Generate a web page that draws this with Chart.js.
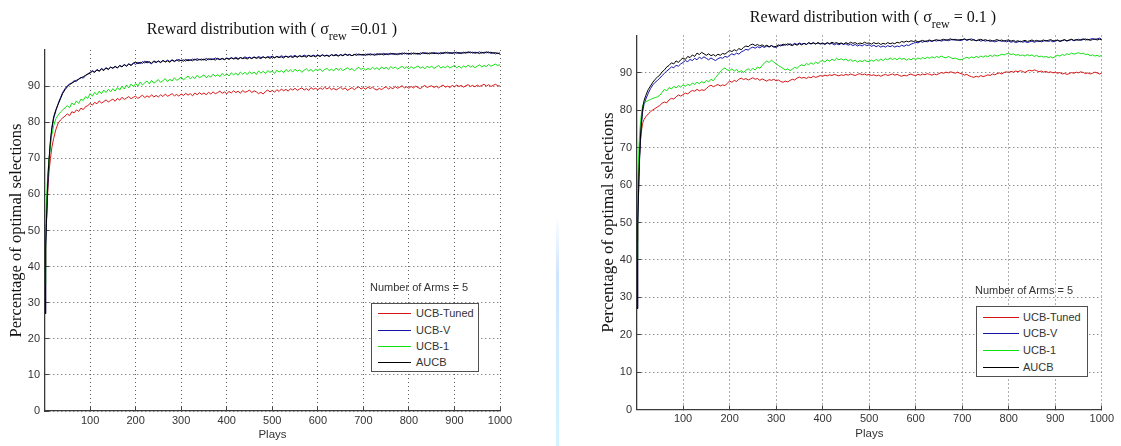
<!DOCTYPE html>
<html><head><meta charset="utf-8">
<script src="https://cdn.jsdelivr.net/npm/chart.js@4.4.1/dist/chart.umd.min.js"></script>
<style>
html,body{margin:0;padding:0;background:#fff;}
body{width:1121px;height:446px;position:relative;overflow:hidden;font-family:"Liberation Sans",Arial,sans-serif;}
canvas{position:absolute;top:0;}
.title{position:absolute;font-family:"Liberation Serif","Times New Roman",serif;font-size:16px;line-height:16px;color:#111;white-space:nowrap;transform:translateX(-50%);z-index:2;}
.title sub{font-size:12px;vertical-align:-6px;line-height:0;}
.note{position:absolute;font-size:11px;line-height:13px;color:#333;white-space:nowrap;z-index:2;}
.legend{position:absolute;border:1.5px solid #505050;background:#fff;box-sizing:border-box;z-index:2;}
.lrow{position:absolute;left:0;height:14px;width:100%;}
.lline{position:absolute;top:7px;height:1px;}
.ltext{position:absolute;top:0;font-size:11px;line-height:14px;color:#333;white-space:nowrap;}
.artifact{position:absolute;left:556px;top:215px;width:3px;height:231px;background:linear-gradient(to bottom,rgba(205,228,255,0),#cfe5ff 25%,#d3f4ff);z-index:1;}
</style></head>
<body>
<canvas id="c1" width="560" height="446" style="left:0"></canvas>
<canvas id="c2" width="561" height="446" style="left:560px"></canvas>
<div class="artifact"></div>
<div class="title" style="left:272px;top:21px">Reward distribution with ( &sigma;<sub>rew</sub> =0.01 )</div>
<div class="title" style="left:873px;top:9px">Reward distribution with ( &sigma;<sub>rew</sub> = 0.1 )</div>
<div class="note" style="left:370px;top:281px">Number of Arms = 5</div>
<div class="note" style="left:975px;top:284px">Number of Arms = 5</div>
<div class="legend" id="lg1" style="left:371px;top:303px;width:108px;height:69px"></div>
<div class="legend" id="lg2" style="left:976px;top:306px;width:112px;height:71px"></div>
<script>
// ---------- data ----------
const plays = [1,2,3,4,6,8,10,13,16,20,25,30,35,40,45,
50,55,60,65,70,75,80,85,90,95,
100,105,110,115,120,125,130,135,140,145,
150,155,160,165,170,175,180,185,190,195,
200,205,210,215,220,225,230,235,240,245,
250,255,260,265,270,275,280,285,290,295,
300,305,310,315,320,325,330,335,340,345,
350,355,360,365,370,375,380,385,390,395,
400,405,410,415,420,425,430,435,440,445,
450,455,460,465,470,475,480,485,490,495,
500,505,510,515,520,525,530,535,540,545,
550,555,560,565,570,575,580,585,590,595,
600,605,610,615,620,625,630,635,640,645,
650,655,660,665,670,675,680,685,690,695,
700,705,710,715,720,725,730,735,740,745,
750,755,760,765,770,775,780,785,790,795,
800,805,810,815,820,825,830,835,840,845,
850,855,860,865,870,875,880,885,890,895,
900,905,910,915,920,925,930,935,940,945,
950,955,960,965,970,975,980,985,990,995,
1000];

const seriesNames = ['UCB-Tuned','UCB-V','UCB-1','AUCB'];
const xTicks = [100,200,300,400,500,600,700,800,900,1000];
const yTicks = [0,10,20,30,40,50,60,70,80,90];
const xTitle = 'Plays';
const yTitle = 'Percentage of optimal selections';

// ----- left panel, sigma_rew = 0.01 -----
const l_tuned = [40,44,48,52,58,63,66.5,70,73,75.5,78,79.8,80.6,81.2,81.7,
82.3,81.8,82.9,82.6,83.4,83.0,83.9,83.5,84.3,84.6,
85.2,84.7,85.5,85.1,85.9,85.3,85.7,86.2,85.6,86.0,
86.4,85.8,86.6,86.1,86.9,86.3,86.7,87.1,86.5,86.9,
87.2,86.6,87.0,87.5,86.8,87.3,86.9,87.6,87.0,87.4,
87.0,87.6,87.1,87.8,87.2,87.5,87.9,87.3,87.7,87.2,
87.8,87.4,88.0,87.5,87.9,87.3,88.1,87.6,88.2,87.7,
88.1,87.6,88.3,87.8,88.4,87.9,88.2,88.6,88.0,88.4,
87.9,88.5,88.1,88.7,88.2,88.6,88.0,88.8,88.3,88.5,
88.9,88.2,88.7,88.4,87.9,88.3,87.8,88.5,88.9,88.4,
88.8,88.3,89.0,88.5,89.2,88.7,89.1,88.6,89.3,88.9,
89.4,88.8,89.2,89.5,88.9,89.3,88.8,89.6,89.1,89.4,
89.0,89.5,89.1,89.7,89.2,89.6,89.0,89.4,88.9,89.3,
89.7,89.1,89.5,88.8,89.2,89.6,89.0,89.5,89.8,89.2,
89.6,89.1,89.8,89.3,89.7,89.2,88.9,89.4,89.0,89.5,
89.8,89.2,89.6,89.3,89.9,89.4,89.7,90.1,89.5,89.8,
89.4,89.9,89.5,90.0,89.6,89.3,89.8,90.2,89.6,89.9,
90.1,89.6,90.0,89.5,89.9,90.3,89.7,90.0,89.6,90.2,
89.8,90.3,89.9,90.2,89.7,90.1,90.4,89.9,90.2,89.8,
90.3,89.9,90.2,90.5,90.0,90.4,89.9,90.2,90.5,90.1,
90.0];
const l_ucbv = [27,37,45,51,59,65,69.5,74.5,78,81,83.2,85.2,86.8,88.3,89.3,
90.1,90.6,90.9,91.5,91.3,92.0,92.4,92.2,92.9,93.4,
93.8,94.3,93.9,94.6,94.2,94.9,94.5,95.1,94.7,95.3,
94.9,95.5,95.1,95.7,95.4,96.0,95.6,96.2,95.8,96.4,
96.0,96.6,96.2,96.8,96.4,96.9,96.5,96.2,96.8,96.5,
97.0,96.6,97.1,96.7,97.2,96.8,97.3,96.9,97.1,97.4,
97.0,97.3,96.9,97.4,97.1,97.5,97.2,97.6,97.3,97.5,
97.2,97.7,97.3,97.6,97.4,97.8,97.5,97.3,97.7,97.4,
97.8,97.5,97.9,97.6,98.0,97.6,97.9,97.7,98.1,97.8,
98.0,97.7,98.1,97.8,98.2,97.9,98.1,97.8,98.2,98.0,
98.3,97.9,98.2,98.0,98.4,98.1,98.3,98.0,98.4,98.2,
98.5,98.1,98.4,98.2,98.6,98.3,98.5,98.2,98.6,98.3,
98.6,98.3,98.7,98.4,98.6,98.3,98.7,98.5,98.8,98.4,
98.7,98.5,98.9,98.6,98.8,98.4,98.7,98.9,98.6,98.8,
98.5,98.9,98.6,99.0,98.7,98.9,98.6,99.0,98.8,99.1,
98.7,99.0,98.8,99.1,98.7,99.0,98.8,99.2,98.9,99.1,
98.8,99.2,98.9,99.1,98.8,99.2,99.0,99.3,98.9,99.2,
99.0,99.3,99.0,99.2,98.9,99.3,99.1,99.4,99.0,99.3,
99.1,99.4,99.0,99.3,99.1,99.4,99.2,99.5,99.1,99.4,
99.2,99.5,99.1,99.4,99.2,99.5,99.0,99.3,98.9,99.2,
98.8];
const l_ucb1 = [35,45,52,57,63,67,70,73.5,76.5,79,81,82,82.8,83.4,84,
84.6,84.0,85.3,84.8,85.9,85.2,86.4,86.0,87.1,86.6,
87.9,87.2,88.3,87.6,88.6,87.9,88.9,88.2,89.1,88.4,
89.3,88.6,89.6,88.9,90.0,89.2,90.3,89.5,90.6,89.9,
90.7,90.0,91.1,90.3,90.9,91.4,90.6,91.6,90.8,91.3,
91.8,91.0,91.5,92.1,91.2,91.9,91.4,92.3,91.6,92.0,
92.5,91.7,92.3,92.8,92.0,92.6,92.1,93.0,92.3,92.7,
93.1,92.3,92.9,92.5,93.3,92.7,93.2,92.6,93.5,92.9,
93.4,92.8,93.7,93.1,93.6,93.0,93.9,93.3,93.8,93.2,
94.0,93.4,93.9,93.2,94.2,93.6,94.1,93.5,94.3,93.8,
94.2,93.5,94.4,93.9,94.3,93.7,94.6,94.0,94.5,93.9,
94.7,94.1,94.5,93.8,94.4,94.8,94.2,94.6,94.0,94.7,
94.3,94.8,94.1,94.6,94.9,94.3,94.7,94.2,95.0,94.4,
94.9,94.3,94.7,95.1,94.5,94.9,94.2,94.8,95.2,94.6,
95.0,94.4,94.9,94.6,95.2,94.7,95.1,94.5,95.3,94.8,
95.2,94.6,95.4,94.9,95.3,94.7,95.1,95.5,94.9,95.3,
94.8,95.4,94.9,95.2,95.6,95.0,95.3,94.8,95.5,95.1,
95.5,94.9,95.3,95.7,95.0,95.4,95.1,95.6,95.0,95.4,
95.7,95.1,95.5,95.0,95.6,95.2,95.8,95.3,95.6,95.1,
95.5,95.9,95.3,95.7,95.4,96.0,95.5,95.8,96.1,95.7,
95.9];
const l_aucb = [27,38,46,52,60,66,70,75,78.5,81.5,83.5,85,86.5,88,89,
89.8,90.4,90.8,91.2,91.6,91.9,92.3,92.6,93.0,93.3,
93.6,94.1,93.8,94.5,94.1,94.7,94.3,95.0,94.6,95.2,
95.0,95.4,95.0,95.7,95.3,95.9,95.5,96.1,95.7,96.3,
96.7,96.2,96.6,96.3,96.9,96.4,96.8,96.3,97.0,96.6,
96.9,96.5,97.1,96.7,97.0,96.6,97.2,96.8,97.3,96.9,
97.2,96.9,97.4,97.0,97.3,97.0,97.5,97.1,97.4,97.2,
97.5,97.1,97.6,97.3,97.5,97.2,97.7,97.4,97.6,97.3,
97.7,97.4,97.8,97.5,97.7,97.4,97.9,97.6,97.8,97.5,
97.9,97.6,98.0,97.7,97.9,97.6,98.1,97.8,98.0,97.7,
98.1,97.8,98.2,97.9,98.1,97.8,98.3,98.0,98.2,97.9,
98.3,98.0,98.4,98.1,98.3,98.0,98.5,98.2,98.4,98.1,
98.5,98.2,98.6,98.3,98.5,98.2,98.7,98.4,98.6,98.3,
98.7,98.4,98.8,98.5,98.7,98.4,98.8,98.5,98.9,98.6,
98.8,98.5,98.9,98.6,98.8,98.5,99.0,98.7,98.9,98.6,
99.0,98.7,99.1,98.8,99.0,98.7,99.1,98.8,99.2,98.9,
99.1,98.8,99.2,98.9,99.1,98.8,99.3,99.0,99.2,98.9,
99.3,99.0,99.2,98.9,99.3,99.0,99.4,99.1,99.3,99.0,
99.4,99.1,99.3,99.0,99.4,99.1,99.5,99.2,99.4,99.1,
99.3,99.0,99.4,99.1,99.5,99.2,99.4,99.1,99.3,99.0,
99.2];

// ----- right panel, sigma_rew = 0.1 -----
const r_tuned = [45,52,58,62,67,71,74,76.5,77.5,78.3,79,79.6,80.1,80.5,80.9,
81.3,81.9,82.2,82.0,82.8,83.2,83.0,83.6,84.1,83.8,
84.2,84.6,84.4,84.9,85.3,85.1,85.6,85.2,85.5,85.3,
85.8,86.4,86.7,86.3,86.6,86.9,86.5,86.8,86.6,87.2,
87.8,87.5,88.0,87.7,88.3,88.6,88.2,88.5,88.1,88.4,
88.7,88.3,88.5,88.0,88.4,88.1,87.8,88.2,88.0,88.3,
87.9,88.1,87.7,87.5,87.8,87.6,88.0,88.3,88.1,88.6,
88.9,88.6,88.8,88.5,88.9,88.7,89.1,88.8,89.0,89.3,
89.1,89.4,89.2,89.5,89.3,89.6,89.4,89.2,89.5,89.3,
89.6,89.4,89.7,89.5,89.3,89.6,89.8,89.5,89.7,89.4,
89.6,89.3,89.5,89.2,89.4,89.1,89.4,89.6,89.3,89.5,
89.7,89.4,89.6,89.3,89.1,89.4,89.2,89.5,89.7,89.4,
89.3,89.6,89.4,89.7,89.5,89.8,89.6,89.4,89.7,89.5,
89.8,90.1,89.9,90.2,90.0,90.3,90.1,89.9,90.2,89.9,
89.7,89.4,89.6,89.2,89.0,88.8,89.1,88.9,89.3,89.0,
89.2,89.5,89.3,89.7,89.5,89.8,90.0,89.7,90.1,90.3,
90.1,90.4,90.2,90.5,90.3,90.6,90.4,90.1,90.5,90.7,
90.5,90.8,90.6,90.3,90.5,90.2,90.4,90.1,90.3,90.0,
90.2,89.9,90.1,89.7,89.9,89.6,89.8,90.1,89.9,90.2,
90.0,90.3,90.1,89.8,90.0,89.7,89.9,90.2,90.0,89.7,
89.9];
const r_ucbv = [27,39,49,56,65,71,75.5,79.5,81.5,83,84.5,85.8,86.8,87.5,88,
88.6,89.3,89.9,90.5,91.0,91.6,91.4,92.0,91.8,92.4,
92.8,93.3,93.0,93.6,93.3,93.9,93.5,94.2,93.8,94.3,
93.9,93.5,94.0,93.6,93.3,93.8,94.1,93.9,94.4,94.2,
94.7,95.1,94.8,95.3,95.0,95.6,95.9,96.3,96.1,96.6,
96.9,96.6,97.0,96.7,97.1,96.8,97.2,96.9,97.3,97.0,
96.8,97.2,97.5,97.3,97.7,97.4,97.8,97.5,97.9,97.6,
98.0,97.7,97.9,97.6,98.0,97.7,98.1,97.8,98.0,97.7,
97.9,97.6,98.0,97.7,97.9,97.5,97.8,97.5,97.9,97.6,
97.8,97.4,97.7,97.3,97.6,97.2,97.5,97.2,97.6,97.3,
97.5,97.1,97.4,97.0,97.3,96.9,97.2,96.9,97.3,97.0,
97.3,96.9,97.2,97.0,97.4,97.1,97.5,97.3,97.7,97.9,
98.2,98.0,98.4,98.2,98.5,98.3,98.6,98.4,98.7,98.5,
98.8,98.5,98.7,98.9,98.6,98.8,99.0,98.7,98.9,98.6,
98.8,99.0,98.7,98.9,99.1,98.8,98.6,98.8,98.5,98.7,
98.5,98.7,98.4,98.6,98.3,98.5,98.7,98.4,98.6,98.3,
98.5,98.2,98.4,98.1,98.3,98.5,98.2,98.4,98.1,98.3,
98.5,98.2,98.4,98.6,98.3,98.5,98.7,98.4,98.6,98.3,
98.5,98.7,98.4,98.6,98.8,98.5,98.7,98.9,98.6,98.8,
99.0,98.7,98.9,99.1,98.8,99.0,99.2,98.9,99.1,99.3,
99.0];
const r_ucb1 = [40,52,60,66,72,76,78.5,81.3,81.8,82.3,82.6,82.9,83.2,83.4,83.6,
84.0,84.8,85.6,85.2,86.1,85.7,86.4,86.0,86.6,86.2,
86.8,86.4,87.0,86.6,87.3,86.9,87.5,87.1,87.7,87.3,
88.0,87.6,88.3,87.9,88.8,89.5,90.3,91.0,91.3,90.8,
90.6,91.1,90.5,90.9,90.2,90.6,90.1,90.7,91.1,90.6,
91.2,90.8,91.6,91.2,92.0,92.7,93.2,92.8,93.4,92.9,
92.4,92.0,91.6,91.2,90.8,91.1,90.6,91.0,91.5,91.2,
91.8,92.2,91.9,92.5,92.2,92.7,92.3,92.9,92.5,93.1,
93.3,92.9,93.5,93.1,93.7,93.3,93.9,93.5,93.8,93.4,
93.7,93.2,93.6,93.1,93.4,92.9,93.3,93.0,93.4,93.1,
93.0,93.4,93.1,93.6,93.2,93.7,93.3,93.8,93.5,94.0,
93.6,93.9,93.5,94.0,93.6,93.9,93.4,93.8,93.5,93.9,
93.6,94.0,93.7,94.1,93.8,94.2,93.9,94.3,94.0,94.4,
94.1,94.5,94.2,94.0,94.4,94.1,93.8,94.0,93.7,93.5,
93.6,93.9,94.2,93.9,94.3,94.0,94.4,94.1,94.5,94.2,
94.6,94.3,94.7,94.4,94.8,94.5,94.7,95.0,94.8,95.1,
95.2,94.9,95.1,94.7,94.9,94.6,94.8,94.5,94.9,94.6,
94.8,94.4,94.7,94.3,94.5,94.2,94.4,94.1,94.3,94.0,
94.4,94.7,94.5,94.9,94.7,95.1,94.9,95.3,95.0,95.2,
95.4,95.1,95.3,94.9,95.0,94.6,94.8,94.5,94.7,94.4,
94.7];
const r_aucb = [27,40,50,57,66,72,76,80.5,82.5,84,85.5,86.5,87.5,88.3,88.9,
89.4,90.3,90.8,91.6,92.0,92.7,92.4,93.2,92.8,93.5,
94.0,93.6,94.4,94.1,94.8,94.4,95.3,94.9,95.5,95.1,
94.7,95.1,94.6,94.9,94.5,95.0,94.7,95.2,95.0,95.5,
96.0,95.7,96.2,95.9,96.5,96.2,96.8,97.2,97.0,97.5,
97.7,97.3,97.6,97.2,97.5,97.1,97.4,97.0,97.3,96.9,
97.1,97.5,97.2,97.7,97.4,97.8,97.5,97.3,97.7,97.4,
97.8,97.5,97.9,97.6,98.1,97.8,98.0,97.7,98.1,97.8,
98.0,97.7,98.1,97.8,98.2,97.9,98.1,97.8,98.0,97.7,
98.1,97.8,98.2,97.9,98.1,97.7,98.0,97.8,98.2,97.9,
98.0,97.7,98.1,97.8,98.0,97.6,97.9,97.7,98.1,97.8,
98.0,97.8,98.2,98.0,98.4,98.2,98.5,98.3,98.6,98.4,
98.6,98.3,98.5,98.7,98.4,98.6,98.8,98.5,98.7,98.9,
98.6,98.8,99.0,98.7,98.9,99.1,98.8,99.0,98.7,98.9,
98.9,99.1,98.8,99.0,98.7,98.9,98.6,98.8,99.0,98.7,
98.9,98.6,98.8,98.5,98.7,98.9,98.6,98.8,98.5,98.7,
98.8,98.5,98.7,98.4,98.6,98.3,98.5,98.7,98.4,98.6,
98.8,98.5,98.7,98.4,98.6,98.8,98.5,98.7,98.9,98.6,
98.6,98.8,98.5,98.7,98.9,98.6,98.8,99.0,98.7,98.9,
98.7,98.9,99.1,98.8,99.0,98.7,98.9,99.1,98.8,99.0,
98.9];

// ---------- styling ----------
const seriesColors = ['#d81414','#1414a8','#10e010','#000000'];
const SANS = '"Liberation Sans", Arial, sans-serif';
const SERIF = '"Liberation Serif", "Times New Roman", serif';
const gridColor = 'rgba(40,40,40,0.75)';

function makeChart(id, values, L) {
  return new Chart(document.getElementById(id), {
    type: 'line',
    data: {
      datasets: seriesNames.map((name, i) => ({
        label: name,
        data: plays.map((p, j) => ({x: p, y: values[i][j]})),
        borderColor: seriesColors[i],
        borderWidth: 1,
        pointRadius: 0,
        tension: 0,
        fill: false,
        order: seriesNames.length - i
      }))
    },
    options: {
      responsive: false,
      animation: false,
      events: [],
      layout: {padding: L.padding},
      plugins: {legend: {display: false}, tooltip: {enabled: false}, title: {display: false}},
      scales: {
        x: {
          type: 'linear', min: 1, max: 1000,
          afterBuildTicks: s => { s.ticks = xTicks.map(v => ({value: v})); },
          afterFit: s => { s.height = L.xHeight; },
          grid: {color: gridColor, lineWidth: 1, drawTicks: true, tickLength: -4, tickColor: '#444', tickWidth: 1},
          border: {display: true, color: '#3a3a3a', width: 1.3, dash: [1, 3]},
          ticks: {color: '#333', font: {family: SANS, size: 11}, padding: 7, maxRotation: 0, autoSkip: false,
                  callback: v => String(v)},
          title: {display: true, text: xTitle, color: '#333', font: {family: SANS, size: 11.5}, padding: {top: 0, bottom: L.xTitlePad}}
        },
        y: {
          type: 'linear', min: 0, max: 100,
          afterBuildTicks: s => { s.ticks = yTicks.map(v => ({value: v})); },
          afterFit: s => { s.width = L.yWidth; },
          grid: {color: gridColor, lineWidth: 1, drawTicks: true, tickLength: -4, tickColor: '#444', tickWidth: 1},
          border: {display: true, color: '#3a3a3a', width: 1.3, dash: [1, 3]},
          ticks: {color: '#333', font: {family: SANS, size: 11}, padding: 9, callback: v => String(v)},
          title: {display: true, text: yTitle, color: '#111', font: {family: SERIF, size: L.yTitleSize}, padding: {top: L.yTitlePad, bottom: 0}}
        }
      }
    }
  });
}

function buildLegend(el, chart, L) {
  chart.data.datasets.forEach((ds, i) => {
    const row = document.createElement('div');
    row.className = 'lrow';
    row.style.top = (L.first + i * L.step - 7) + 'px';
    const ln = document.createElement('div');
    ln.className = 'lline';
    ln.style.left = L.lineLeft + 'px';
    ln.style.width = L.lineLen + 'px';
    ln.style.background = ds.borderColor;
    const tx = document.createElement('div');
    tx.className = 'ltext';
    tx.style.left = L.textLeft + 'px';
    tx.textContent = ds.label;
    row.appendChild(ln); row.appendChild(tx);
    el.appendChild(row);
  });
}

const ch1 = makeChart('c1', [l_tuned, l_ucbv, l_ucb1, l_aucb], {
  padding: {left: 0, right: 60, top: 50, bottom: 0},
  xHeight: 35, yWidth: 45, xTitlePad: 4, yTitleSize: 16.5, yTitlePad: 7
});
const ch2 = makeChart('c2', [r_tuned, r_ucbv, r_ucb1, r_aucb], {
  padding: {left: 36, right: 13, top: 35.5, bottom: 0},
  xHeight: 36.5, yWidth: 41, xTitlePad: 4.8, yTitleSize: 17, yTitlePad: 2
});
buildLegend(document.getElementById('lg1'), ch1, {first: 9.2, step: 16.4, lineLeft: 6, lineLen: 33, textLeft: 44});
buildLegend(document.getElementById('lg2'), ch2, {first: 9.5, step: 16.7, lineLeft: 6, lineLen: 36, textLeft: 46});
</script>
</body></html>
